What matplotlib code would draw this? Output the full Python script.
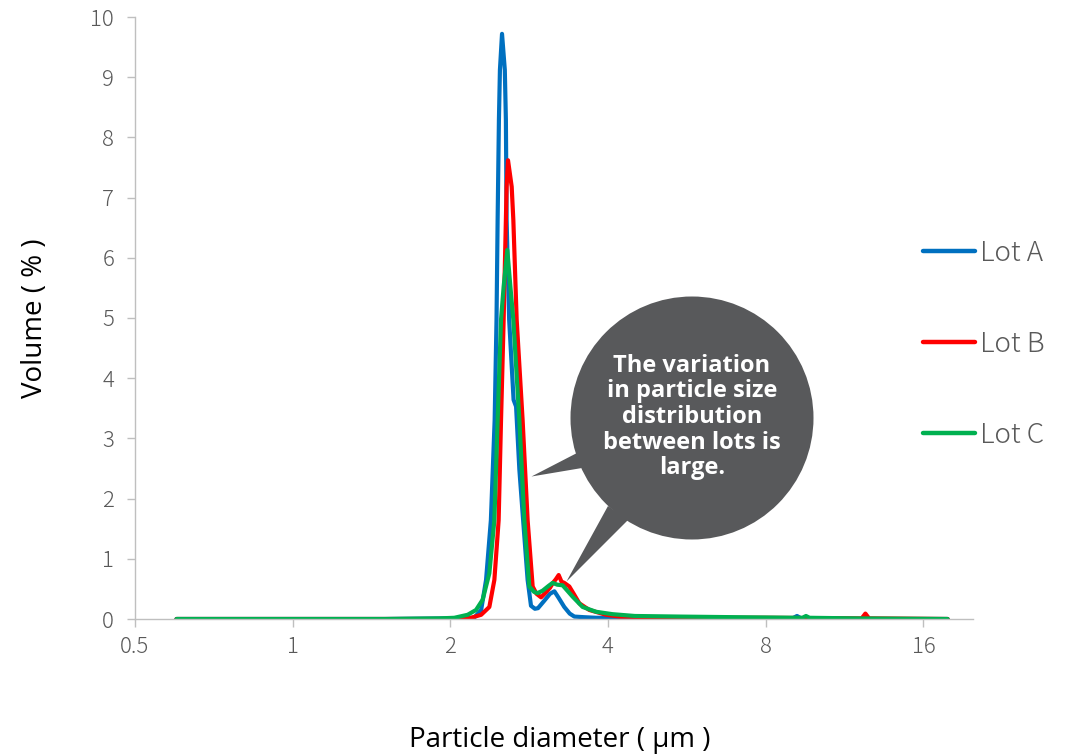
import matplotlib
matplotlib.use("Agg")
import matplotlib.pyplot as plt
from matplotlib.patches import Circle, Polygon

# particle size distributions (diameter in um, volume in %)
lot_a_x = [0.60, 1.00, 1.50, 2.00, 2.22, 2.29, 2.34, 2.39, 2.43, 2.45, 2.462, 2.476,
           2.487, 2.51, 2.541, 2.553, 2.561, 2.59, 2.641, 2.67, 2.709, 2.769, 2.809,
           2.851, 2.90, 2.94, 3.02, 3.10, 3.16, 3.22, 3.30, 3.38, 3.45, 3.60, 3.80,
           4.50, 6.00, 9.00, 9.18, 9.35, 12.0, 17.8]
lot_a_y = [0.0, 0.0, 0.0, 0.01, 0.02, 0.15, 0.65, 1.64, 3.30, 4.97, 6.63, 8.29,
           9.12, 9.72, 9.12, 8.29, 6.63, 4.97, 3.64, 3.53, 2.48, 1.37, 0.65,
           0.22, 0.17, 0.18, 0.30, 0.42, 0.46, 0.35, 0.20, 0.09, 0.04, 0.03, 0.02,
           0.02, 0.01, 0.01, 0.05, 0.01, 0.0, 0.0]

lot_b_x = [0.60, 1.00, 1.50, 2.00, 2.17, 2.29, 2.374, 2.427, 2.473, 2.499, 2.528,
           2.553, 2.561, 2.577, 2.619, 2.638, 2.677, 2.748, 2.809, 2.872, 2.92, 2.98,
           3.05, 3.10, 3.14, 3.18, 3.22, 3.26, 3.30, 3.374, 3.45, 3.526, 3.684,
           3.965, 4.21, 5.00, 6.00, 8.00, 12.2, 12.4, 12.6, 17.8]
lot_b_y = [0.0, 0.0, 0.0, 0.0, 0.01, 0.07, 0.20, 0.65, 1.64, 3.30, 4.97,
           6.63, 7.18, 7.62, 7.18, 6.63, 4.97, 3.30, 1.64, 0.54, 0.42, 0.36,
           0.45, 0.52, 0.60, 0.66, 0.73, 0.62, 0.60, 0.54, 0.40, 0.26, 0.15,
           0.07, 0.04, 0.03, 0.02, 0.02, 0.01, 0.09, 0.01, 0.0]

lot_c_x = [0.60, 1.00, 1.50, 1.90, 2.035, 2.158, 2.239, 2.305, 2.374, 2.427, 2.462,
           2.499, 2.528, 2.569, 2.604, 2.638, 2.709, 2.769, 2.83, 2.89, 2.935, 3.00,
           3.08, 3.135, 3.20, 3.276, 3.424, 3.577, 3.794, 4.081, 4.50, 5.50, 7.00,
           9.40, 9.55, 9.70, 12.0, 17.8]
lot_c_y = [0.0, 0.0, 0.0, 0.01, 0.02, 0.07, 0.15, 0.32, 0.76, 1.64, 3.30,
           4.97, 5.52, 6.13, 5.52, 4.97, 3.30, 1.64, 0.54, 0.45, 0.43, 0.47,
           0.55, 0.60, 0.57, 0.56, 0.37, 0.20, 0.12, 0.08, 0.05, 0.04, 0.03,
           0.02, 0.05, 0.02, 0.01, 0.0]

lot_names = ["Lot A", "Lot B", "Lot C"]
lot_colors = ["#0070C0", "#FF0000", "#00B050"]
x_ticks = [0.5, 1, 2, 4, 8, 16]
x_tick_labels = ["0.5", "1", "2", "4", "8", "16"]
y_ticks = list(range(0, 11))

note_text = "The variation\nin particle size\ndistribution\nbetween lots is\nlarge."

W, H = 1077, 756
fig = plt.figure(figsize=(W / 100, H / 100), dpi=100)
ax = fig.add_axes([135 / W, 1 - 619 / H, (973 - 135) / W, (619 - 17) / H])

series = [(lot_a_x, lot_a_y), (lot_b_x, lot_b_y), (lot_c_x, lot_c_y)]
for (xs, ys), name, col in zip(series, lot_names, lot_colors):
    ax.plot(xs, ys, color=col, lw=3.0, label=name,
            solid_joinstyle="round", solid_capstyle="round")

ax.set_xscale("log", base=2)
ax.set_xlim(0.5, 19.9)
ax.set_ylim(0, 10)
ax.set_xticks(x_ticks)
ax.set_xticklabels(x_tick_labels)
ax.minorticks_off()
ax.set_yticks(y_ticks)

tick_font = "Noto Sans CJK JP"
for lbl in ax.get_xticklabels() + ax.get_yticklabels():
    lbl.set_fontfamily(tick_font)
    lbl.set_fontsize(16)
    lbl.set_fontweight("light")

for side in ["top", "right"]:
    ax.spines[side].set_visible(False)
for side in ["left", "bottom"]:
    ax.spines[side].set_color("#BFBFBF")
    ax.spines[side].set_linewidth(1.0)
ax.tick_params(axis="both", colors="#BFBFBF", length=6, width=1.0)
ax.tick_params(axis="x", pad=6, labelcolor="#595959")
ax.tick_params(axis="y", pad=9, labelcolor="#595959")

ax.set_ylabel("Volume ( % )", fontsize=20, family="Open Sans", color="#000000",
              va="center")
ax.yaxis.set_label_coords((35 - 135) / 838, 0.5)
ax.set_xlabel("Particle diameter ( µm )", fontsize=20, family="Open Sans",
              color="#000000", va="center")
ax.xaxis.set_label_coords((560 - 135) / 838, (619 - 740) / 602)

leg = ax.legend(loc="center left", bbox_to_anchor=(923 / W, 1 - 344 / H),
                bbox_transform=fig.transFigure, frameon=False, borderpad=0,
                borderaxespad=0, handlelength=1.87, handletextpad=0.2,
                labelspacing=2.27,
                prop={"family": tick_font, "size": 20, "weight": "light"})
for t in leg.get_texts():
    t.set_color("#595959")
for h in leg.get_lines():
    h.set_linewidth(3.2)

# speech bubble drawn on a pixel-space overlay
ov = fig.add_axes([0, 0, 1, 1], facecolor="none")
ov.set_xlim(0, W)
ov.set_ylim(H, 0)
ov.axis("off")
bubble = "#58595B"
ov.add_patch(Circle((692, 418), 121.5, color=bubble, lw=0))
ov.add_patch(Polygon([(531.5, 476.5), (577, 453), (582, 468)], closed=True,
                     color=bubble, lw=0))
ov.add_patch(Polygon([(566.5, 581.5), (608, 506), (628, 520)], closed=True,
                     color=bubble, lw=0))
ov.text(692, 417, note_text, ha="center", va="center", color="white",
        fontsize=17, fontweight="bold", family="Open Sans", linespacing=1.09)

fig.savefig("out.png", dpi=100)
